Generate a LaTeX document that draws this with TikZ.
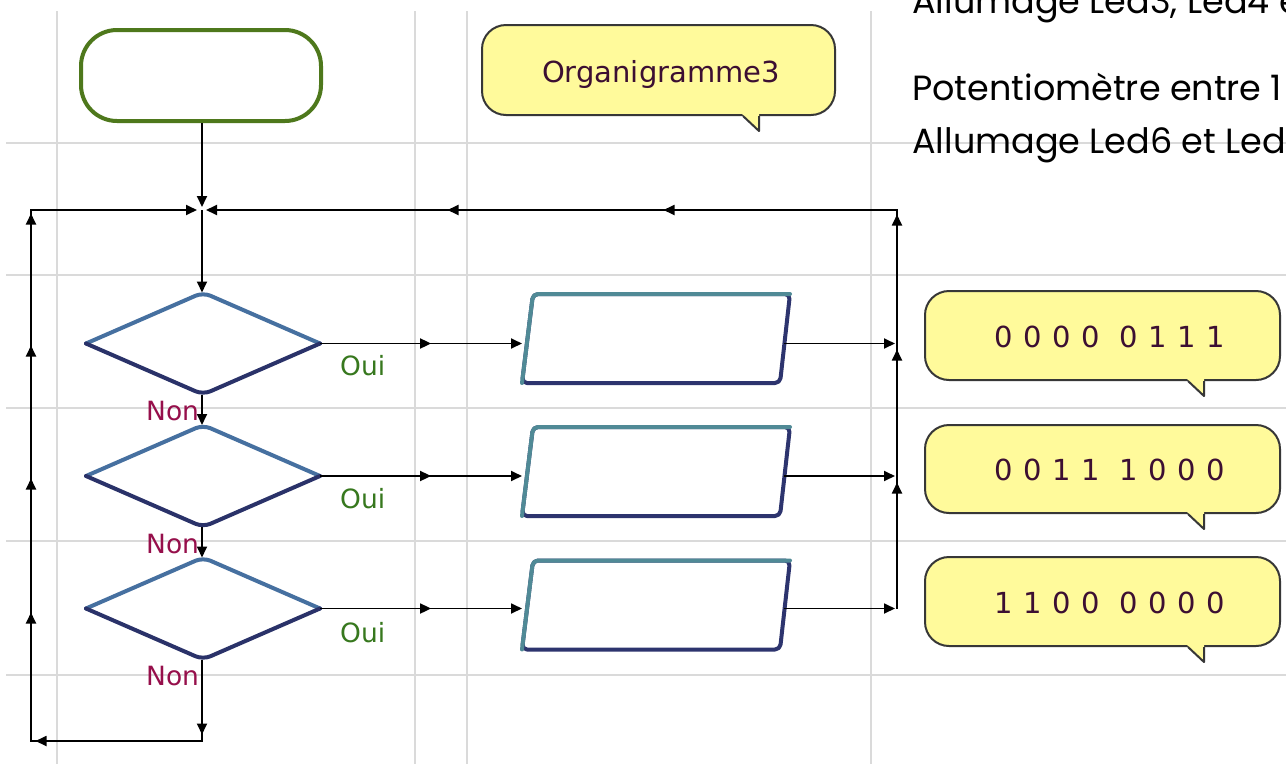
\documentclass[tikz,border=0pt]{standalone}
\usepackage{fontspec}
\setmainfont{DejaVu Sans}
\newfontfamily\comicfont{Poppins}
\usetikzlibrary{arrows.meta,decorations.markings,shapes.geometric,calc}
\definecolor{gridc}{RGB}{218,218,218}
\definecolor{startc}{RGB}{78,120,28}
\definecolor{diatop}{RGB}{70,112,160}
\definecolor{diabot}{RGB}{42,50,105}
\definecolor{partop}{RGB}{80,138,150}
\definecolor{parbot}{RGB}{45,52,110}
\definecolor{cyel}{RGB}{255,250,155}
\definecolor{cline}{RGB}{55,55,55}
\definecolor{ctext}{RGB}{60,15,50}
\definecolor{ouic}{RGB}{55,120,30}
\definecolor{nonc}{RGB}{150,15,75}
\newcommand\ctail[1]{%
  \fill[cyel] ([xshift=-94pt,yshift=2pt]#1.south east) -- ([xshift=-77pt,yshift=-15pt]#1.south east) -- ([xshift=-77pt,yshift=2pt]#1.south east) -- cycle;
  \draw[cline, line width=2pt, line join=round] ([xshift=-93pt]#1.south east) -- ([xshift=-77pt,yshift=-15pt]#1.south east) -- ([xshift=-77pt]#1.south east);
}
\begin{document}
\begin{tikzpicture}[x=1pt,y=-1pt,
  gridline/.style={gridc, line width=1.5pt},
  conn/.style={line width=1.8pt, black, -{Triangle[length=11pt,width=10pt]}},
  tipat/.style={postaction={decorate,decoration={markings,mark=at position #1 with {\arrow{Triangle[length=11pt,width=10pt]}}}}},
  startbox/.style={draw=startc, line width=4pt, rounded corners=36pt, fill=white, minimum width=240pt, minimum height=91pt, inner sep=0pt},
  dia/.style={diamond, minimum width=234pt, minimum height=102pt, inner sep=0pt, outer sep=0pt, fill=white},
  diaedge/.style={line width=4pt, rounded corners=8pt, line cap=round, line join=round},
  parbox/.style={rectangle, minimum width=268pt, minimum height=89pt, inner sep=0pt, outer sep=0pt},
  paredge/.style={line width=4pt, rounded corners=5pt, line cap=round, line join=round},
  cbox/.style={draw=cline, line width=2pt, fill=cyel, rounded corners=24pt, inner sep=0pt},
  ctxt/.style={text=ctext, font=\fontsize{29}{34}\selectfont, anchor=base, inner sep=0pt},
  oui/.style={text=ouic, font=\fontsize{26.5}{30}\selectfont, anchor=base west, inner sep=0pt},
  non/.style={text=nonc, font=\fontsize{26.5}{30}\selectfont, anchor=base west, inner sep=0pt},
  comic/.style={font=\comicfont\fontsize{35}{40}\selectfont, anchor=base west, inner sep=0pt}
]
\clip (0,0) rectangle (1286,764);
\fill[white] (0,0) rectangle (1286,764);
% grid
\foreach \x in {57,415,467,871} \draw[gridline] (\x,11) -- (\x,764);
\foreach \y in {143,275,408,541,675} \draw[gridline] (6,\y) -- (1286,\y);

% right texts
\node[comic] (tx0) at (912,13) {Allumage Led3, Led4 et};
\node[comic] (tx1) at (912,100) {Potentiomètre entre 1};
\node[comic] (tx2) at (912,153) {Allumage Led6 et Led};

% start
\node[startbox] (start) at (201,75.5) {};
\coordinate (J) at (202,210);

% diamonds
\node[dia] (d1) at (203,343.5) {};
\node[dia] (d2) at (203,476) {};
\node[dia] (d3) at (203,608.5) {};
\foreach \d in {d1,d2,d3} {
  \draw[diaedge, diatop] (\d.west) -- (\d.north) -- (\d.east);
  \draw[diaedge, diabot] (\d.east) -- (\d.south) -- (\d.west);
}

% parallelograms
\node[parbox] (p1) at (656,338.5) {};
\node[parbox] (p2) at (656,471.5) {};
\node[parbox] (p3) at (656,605) {};
\foreach \p in {p1,p2,p3} {
  \fill[white] ([xshift=11pt]\p.north west) -- (\p.north east) -- ([xshift=-10pt]\p.south east) -- (\p.south west) -- cycle;
  \draw[paredge, parbot] ([xshift=11pt]\p.north west) -- (\p.north east) -- ([xshift=-10pt]\p.south east) -- (\p.south west) -- cycle;
  \draw[paredge, partop] (\p.south west) -- ([xshift=11pt]\p.north west) -- (\p.north east);
}

% bus coordinates
\coordinate (b0) at (897,210);
\coordinate (b1) at (897,343.5);
\coordinate (b2) at (897,476);
\coordinate (b3) at (897,608.5);
\coordinate (L1) at (202,741);
\coordinate (L2) at (31,741);
\coordinate (L3) at (31,210);

% connectors
\draw[conn, shorten >=3pt] (start.south -| J) -- (J);
\draw[conn] (J) -- (J |- d1.north);
\draw[conn] (J |- d1.south) -- (J |- d2.north);
\draw[conn] (J |- d2.south) -- (J |- d3.north);
\draw[conn, tipat=0.55] (d1.east) -- (d1.east -| p1.west);
\draw[conn, tipat=0.55] (d2.east) -- (d2.east -| p2.west);
\draw[conn, tipat=0.55] (d3.east) -- (d3.east -| p3.west);
\coordinate (p1o) at ($(d1.east -| p1.east)+(-6,0)$);
\coordinate (p2o) at ($(d2.east -| p2.east)+(-6,0)$);
\coordinate (p3o) at ($(d3.east -| p3.east)+(-6,0)$);
\draw[conn, shorten >=2pt] (p1o) -- (b1);
\draw[conn, shorten >=2pt] (p2o) -- (b2);
\draw[conn, shorten >=2pt] (p3o) -- (b3);
\draw[conn, shorten >=4pt, tipat=126pt, tipat=259pt, tipat=394pt, tipat=632pt, tipat=848pt] (b3) -- (b0) -- (J);
\draw[conn, shorten >=5pt, tipat=75pt, tipat=248pt, tipat=381pt, tipat=515pt, tipat=648pt, tipat=780pt] (J |- d3.south) -- (L1) -- (L2) -- (L3) -- (J);

% labels
\node[oui] (oui1) at (340,375) {Oui};
\node[oui] (oui2) at (340,508) {Oui};
\node[oui] (oui3) at (340,642) {Oui};
\node[non] (non1) at (146,420) {Non};
\node[non] (non2) at (146,553) {Non};
\node[non] (non3) at (146,685) {Non};

% callouts
\node[cbox, minimum width=353pt, minimum height=90pt] (org) at (658.5,70) {};
\ctail{org}
\node[ctxt] (orgt) at (661,82) {Organigramme3};

\node[cbox, minimum width=355pt, minimum height=89pt] (c1) at (1102.5,335.5) {};
\ctail{c1}
\node[cbox, minimum width=355pt, minimum height=88pt] (c2) at (1102.5,469) {};
\ctail{c2}
\node[cbox, minimum width=355pt, minimum height=89pt] (c3) at (1102.5,601.5) {};
\ctail{c3}
\node[ctxt] (c1t) at (1110,347) {\spaceskip=10.6pt\relax 0 0 0 0 \hspace{9pt}0 1 1 1};
\node[ctxt] (c2t) at (1110,480) {\spaceskip=10.6pt\relax 0 0 1 1 \hspace{9pt}1 0 0 0};
\node[ctxt] (c3t) at (1110,613) {\spaceskip=10.6pt\relax 1 1 0 0 \hspace{9pt}0 0 0 0};
\end{tikzpicture}
\end{document}
